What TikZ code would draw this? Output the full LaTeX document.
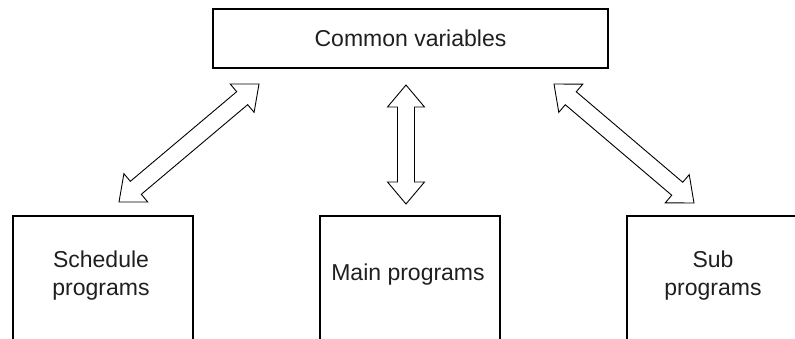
\documentclass[tikz,border=0pt]{standalone}
\usepackage{fontspec}
\setmainfont{Liberation Sans}
\usetikzlibrary{calc}
\newcommand{\hollowarrow}[2]{%
  \coordinate (#1h) at ($(#1)!22pt!(#2)$);
  \coordinate (#2h) at ($(#2)!22pt!(#1)$);
  \draw[arrowshape] (#1)
    -- ($(#1h)!18.5pt!90:(#2)$) -- ($(#1h)!8.5pt!90:(#2)$)
    -- ($(#2h)!8.5pt!-90:(#1)$) -- ($(#2h)!18.5pt!-90:(#1)$)
    -- (#2)
    -- ($(#2h)!18.5pt!90:(#1)$) -- ($(#2h)!8.5pt!90:(#1)$)
    -- ($(#1h)!8.5pt!-90:(#2)$) -- ($(#1h)!18.5pt!-90:(#2)$)
    -- cycle;}
\begin{document}
\begin{tikzpicture}[x=1pt,y=1pt,
  box/.style={draw=black, line width=1.8pt, fill=none, inner sep=0pt},
  lbl/.style={font=\fontsize{23}{28}\selectfont, align=center, text=black!88, inner sep=0pt},
  arrowshape/.style={draw=black, line width=0.9pt, fill=white, line join=miter}]
\useasboundingbox (0,0) rectangle (795,338);
% top box
\node[box, minimum width=395pt, minimum height=59pt, lbl] (common) at (410.5,299.5) {Common variables};
% lower boxes (open at the bottom: they run past the page edge)
\node[box, minimum width=180pt, minimum height=200pt, anchor=north] (sched) at (103,123) {};
\node[box, minimum width=180pt, minimum height=200pt, anchor=north] (main) at (410,123) {};
\node[box, minimum width=180pt, minimum height=200pt, anchor=north] (sub) at (717,123) {};
\node[lbl] (schedtxt) at ($(sched.north)+(-2,-61)$) {Schedule\\programs};
\node[lbl] (maintxt) at ($(main.north)+(-2,-60)$) {Main programs};
\node[lbl] (subtxt) at ($(sub.north)+(-4,-61)$) {Sub\\programs};
% arrow tips
\coordinate (lA) at (259,254);
\coordinate (lB) at (119,136);
\coordinate (mA) at (406,253);
\coordinate (mB) at (406,134);
\coordinate (rA) at (554,254);
\coordinate (rB) at (694,135);
\hollowarrow{lA}{lB}
\hollowarrow{mA}{mB}
\hollowarrow{rA}{rB}
\end{tikzpicture}
\end{document}
